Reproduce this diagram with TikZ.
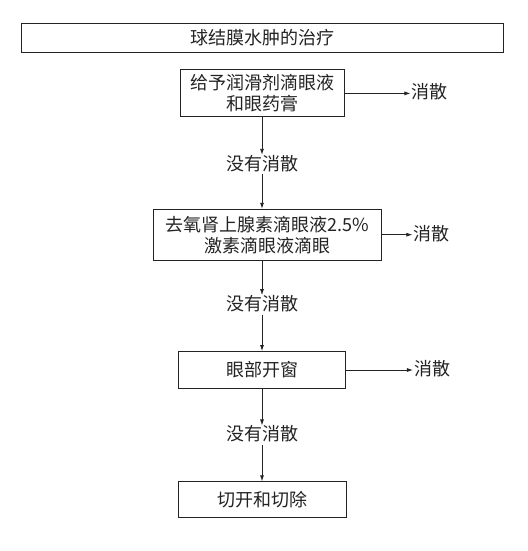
\documentclass[tikz,border=0pt]{standalone}
\usepackage{fontspec}
\newfontfamily\cjk{Noto Sans CJK SC}
\usetikzlibrary{arrows.meta,positioning}
\definecolor{InkGray}{RGB}{35,35,35}

\begin{document}
\begin{tikzpicture}[x=1pt, y=1pt, >={Latex[length=6pt,width=4pt]}, font=\cjk\fontsize{18}{21}\selectfont,
    stepbox/.style={draw=InkGray, rectangle, line width=0.9pt, text=InkGray, align=center, inner sep=2pt},
    note/.style={text=InkGray, text height=14pt, text depth=3pt, inner sep=1pt},
    flow/.style={->, draw=InkGray, line width=0.8pt}]
    \useasboundingbox (0,0) rectangle (527,-551);

    \node [stepbox, minimum width=482pt, minimum height=29pt] (title) at (262,-37.5) {球结膜水肿的治疗};
    \node [stepbox, minimum width=164pt, minimum height=47pt, below=17pt of title] (lube) {给予润滑剂滴眼液\\和眼药膏};
    \node [note, right=66pt of lube] (done1) {消散};
    \node [note, below=37.5pt of lube] (no1) {没有消散};
    \node [stepbox, minimum width=228pt, minimum height=51pt, below=34.5pt of no1, xshift=5pt] (drops) {去氧肾上腺素滴眼液2.5\%\\激素滴眼液滴眼};
    \node [note, right=31pt of drops] (done2) {消散};
    \node [note, below=34.5pt of drops, xshift=-5pt] (no2) {没有消散};
    \node [stepbox, minimum width=167pt, minimum height=37pt, below=36.5pt of no2] (window) {眼部开窗};
    \node [note, right=67pt of window] (done3) {消散};
    \node [note, below=36.5pt of window] (no3) {没有消散};
    \node [stepbox, minimum width=168pt, minimum height=36pt, below=36.5pt of no3] (excise) {切开和切除};

    \draw [flow] (lube) -- (done1);
    \draw [flow] (lube) -- (no1);
    \draw [flow] (no1) -- (no1 |- drops.north);
    \draw [flow] (drops) -- (done2);
    \draw [flow] (drops.south -| no2) -- (no2);
    \draw [flow] (no2) -- (window);
    \draw [flow] (window) -- (done3);
    \draw [flow] (window) -- (no3);
    \draw [flow] (no3) -- (excise);
\end{tikzpicture}
\end{document}
